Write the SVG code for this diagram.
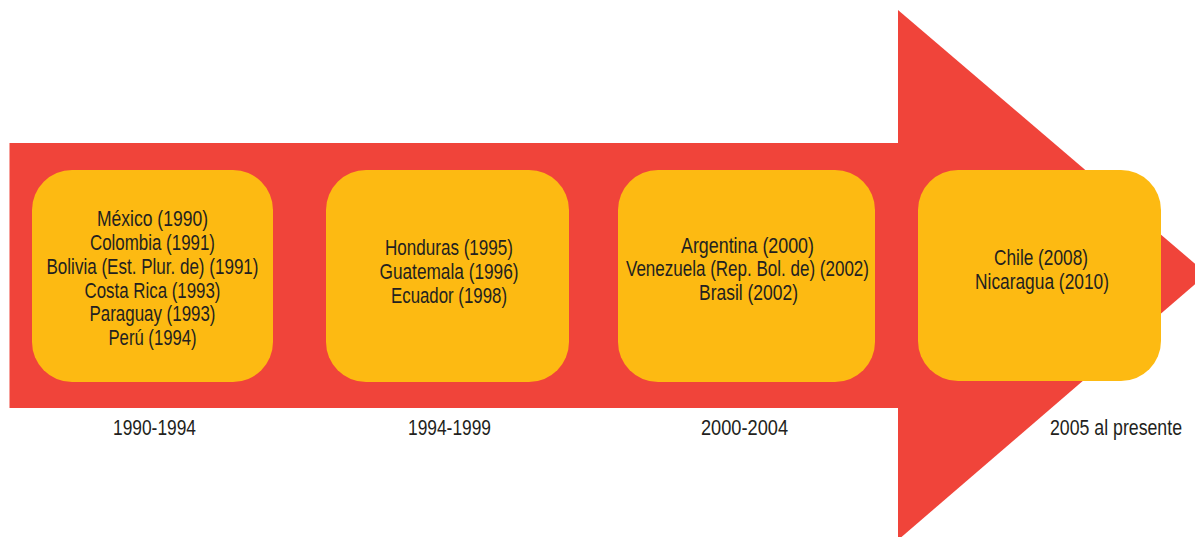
<svg xmlns="http://www.w3.org/2000/svg" width="1195" height="537" viewBox="0 0 1195 537">
<style>
.arrow{fill:#F0443A}
.box{fill:#FDBA12}
.t{font-family:"Liberation Sans Narrow","Liberation Sans",Arial,sans-serif;font-size:22px;fill:#231F20;text-anchor:middle}
.lbl{font-family:"Liberation Sans Narrow","Liberation Sans",Arial,sans-serif;font-size:22px;fill:#231F20;text-anchor:middle}
</style>
<g id="arrow">
<rect class="arrow" x="9.5" y="143" width="890" height="265"/>
<polygon class="arrow" points="898,10 1207,274 898,540"/>
</g>
<g id="node1">
<rect class="box" x="32" y="170" width="241" height="212" rx="40" ry="40"/>
<text class="t" x="152.5" y="226" textLength="111" lengthAdjust="spacingAndGlyphs">México (1990)</text>
<text class="t" x="152.5" y="250" textLength="125" lengthAdjust="spacingAndGlyphs">Colombia (1991)</text>
<text class="t" x="152.5" y="273.5" textLength="212" lengthAdjust="spacingAndGlyphs">Bolivia (Est. Plur. de) (1991)</text>
<text class="t" x="152.5" y="297.5" textLength="136" lengthAdjust="spacingAndGlyphs">Costa Rica (1993)</text>
<text class="t" x="152.5" y="321" textLength="126" lengthAdjust="spacingAndGlyphs">Paraguay (1993)</text>
<text class="t" x="152.5" y="345" textLength="88" lengthAdjust="spacingAndGlyphs">Perú (1994)</text>
</g>
<g id="node2">
<rect class="box" x="326" y="170" width="243" height="212" rx="40" ry="40"/>
<text class="t" x="449" y="255" textLength="128" lengthAdjust="spacingAndGlyphs">Honduras (1995)</text>
<text class="t" x="449" y="278.5" textLength="139" lengthAdjust="spacingAndGlyphs">Guatemala (1996)</text>
<text class="t" x="449" y="302.5" textLength="116" lengthAdjust="spacingAndGlyphs">Ecuador (1998)</text>
</g>
<g id="node3">
<rect class="box" x="618" y="170" width="257" height="212" rx="40" ry="40"/>
<text class="t" x="747.5" y="252.5" textLength="133" lengthAdjust="spacingAndGlyphs">Argentina (2000)</text>
<text class="t" x="747.5" y="276" textLength="243" lengthAdjust="spacingAndGlyphs">Venezuela (Rep. Bol. de) (2002)</text>
<text class="t" x="748.5" y="299.5" textLength="99" lengthAdjust="spacingAndGlyphs">Brasil (2002)</text>
</g>
<g id="node4">
<rect class="box" x="918" y="170" width="243" height="211" rx="40" ry="40"/>
<text class="t" x="1041" y="265" textLength="94" lengthAdjust="spacingAndGlyphs">Chile (2008)</text>
<text class="t" x="1042" y="289" textLength="134" lengthAdjust="spacingAndGlyphs">Nicaragua (2010)</text>
</g>
<g id="labels">
<text class="lbl" x="154.5" y="435" textLength="83" lengthAdjust="spacingAndGlyphs">1990-1994</text>
<text class="lbl" x="449.5" y="435" textLength="83" lengthAdjust="spacingAndGlyphs">1994-1999</text>
<text class="lbl" x="744.5" y="435" textLength="87" lengthAdjust="spacingAndGlyphs">2000-2004</text>
<text class="lbl" x="1116" y="435" textLength="132" lengthAdjust="spacingAndGlyphs">2005 al presente</text>
</g>
<g id="connectors"/>
</svg>
